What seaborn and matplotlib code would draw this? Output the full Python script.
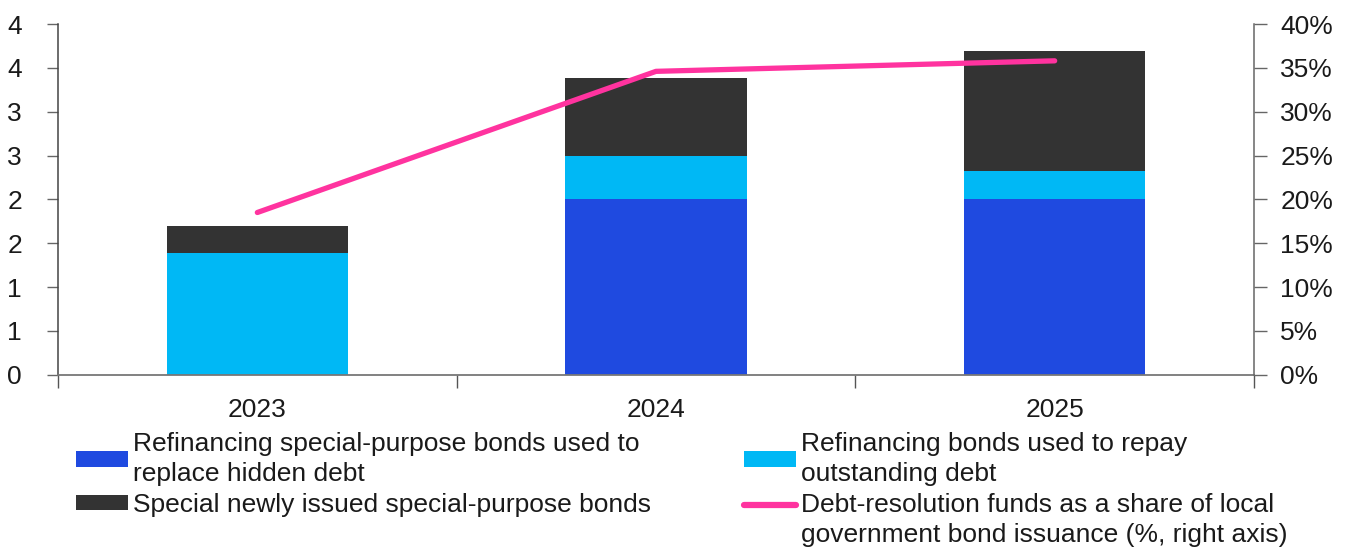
import matplotlib
matplotlib.use("Agg")
import matplotlib.pyplot as plt
import seaborn as sns
import pandas as pd
import numpy as np
from matplotlib.patches import Patch
from matplotlib.lines import Line2D
from matplotlib.ticker import FixedLocator
from matplotlib.legend_handler import HandlerLine2D

# ---------------- data ----------------
years = ["2023", "2024", "2025"]
hidden_debt = [0.0, 2.0, 2.0]          # Refinancing special-purpose bonds used to replace hidden debt
repay_outstanding = [1.39, 0.50, 0.32]  # Refinancing bonds used to repay outstanding debt
special_new = [0.31, 0.88, 1.37]        # Special newly issued special-purpose bonds
share_pct = [18.5, 34.6, 35.8]          # Debt-resolution funds share (%, right axis)

left_ticks = [0, 0.5, 1.0, 1.5, 2.0, 2.5, 3.0, 3.5, 4.0]
left_tick_labels = ["0", "1", "1", "2", "2", "3", "3", "4", "4"]
right_ticks = [0, 5, 10, 15, 20, 25, 30, 35, 40]
right_tick_labels = ["0%", "5%", "10%", "15%", "20%", "25%", "30%", "35%", "40%"]

labels = [
    "Refinancing special-purpose bonds used to\nreplace hidden debt",
    "Refinancing bonds used to repay\noutstanding debt",
    "Special newly issued special-purpose bonds",
    "Debt-resolution funds as a share of local\ngovernment bond issuance (%, right axis)",
]

C_BLUE = "#1F4AE0"
C_CYAN = "#00B8F5"
C_DARK = "#333333"
C_PINK = "#FF339F"

# ---------------- style ----------------
sns.set_theme(style="white")
plt.rcParams["font.family"] = ["Liberation Sans", "DejaVu Sans"]
FS = 19
TXT = "#1a1a1a"

df = pd.DataFrame({
    "year": years,
    "hidden": hidden_debt,
    "repay": repay_outstanding,
    "new": special_new,
    "share": share_pct,
})
df["b2"] = df["hidden"]
df["b3"] = df["hidden"] + df["repay"]
df["pos"] = np.arange(len(years))

fig = plt.figure(figsize=(13.47, 5.5), dpi=100)
ax = fig.add_axes([58 / 1347, 1 - 374.7 / 550, (1254 - 58) / 1347, (374.7 - 24) / 550])

W = 0.455
sns.barplot(data=df, x="year", y="hidden", color=C_BLUE, width=W, ax=ax,
            saturation=1, linewidth=0)
sns.barplot(data=df, x="year", y="repay", bottom=df["b2"], color=C_CYAN, width=W,
            ax=ax, saturation=1, linewidth=0)
sns.barplot(data=df, x="year", y="new", bottom=df["b3"], color=C_DARK, width=W,
            ax=ax, saturation=1, linewidth=0)

ax.set_xlim(-0.5, 2.5)
ax.set_ylim(0, 4.0)
ax.set_xlabel("")
ax.set_ylabel("")
ax.set_yticks(left_ticks)
ax.set_yticklabels(left_tick_labels)
ax.tick_params(axis="y", which="major", direction="out", length=8, width=1,
               color="#666666", pad=18, labelsize=FS, labelcolor=TXT, left=True)
ax.set_xticks(df["pos"])
ax.set_xticklabels(years)
ax.xaxis.set_minor_locator(FixedLocator([-0.5, 0.5, 1.5, 2.5]))
ax.tick_params(axis="x", which="major", length=0, pad=17, labelsize=FS, labelcolor=TXT)
ax.tick_params(axis="x", which="minor", direction="out", length=9, width=1,
               color="#555555", bottom=True)
for s in ["top", "right"]:
    ax.spines[s].set_visible(False)
ax.spines["left"].set_color("#444444")
ax.spines["left"].set_linewidth(1.1)
ax.spines["bottom"].set_color("#777777")
ax.spines["bottom"].set_linewidth(1.3)
ax.grid(False)

ax2 = ax.twinx()
sns.lineplot(data=df, x="pos", y="share", color=C_PINK, linewidth=3.8, ax=ax2,
             solid_capstyle="round", legend=False)
ax2.set_ylim(0, 40)
ax2.set_xlim(-0.5, 2.5)
ax2.set_xlabel("")
ax2.set_ylabel("")
ax2.set_yticks(right_ticks)
ax2.set_yticklabels(right_tick_labels)
ax2.tick_params(axis="y", direction="out", length=9, width=1, color="#666666",
                pad=10, labelsize=FS, labelcolor=TXT, right=True)
for s in ["top", "left", "bottom"]:
    ax2.spines[s].set_visible(False)
ax2.spines["right"].set_color("#666666")
ax2.spines["right"].set_linewidth(1.1)
ax2.grid(False)


class RaisedLineHandler(HandlerLine2D):
    """Line legend handle aligned with the first line of a two-line label."""

    def __init__(self, raise_pts, **kw):
        super().__init__(**kw)
        self.raise_pts = raise_pts

    def create_artists(self, legend, orig_handle, xdescent, ydescent, width,
                       height, fontsize, trans):
        arts = super().create_artists(legend, orig_handle, xdescent, ydescent,
                                      width, height, fontsize, trans)
        for a in arts:
            a.set_ydata(np.asarray(a.get_ydata()) + self.raise_pts)
        return arts


fpx = FS * 100 / 72.0
h_blue = Patch(facecolor=C_BLUE, edgecolor="none")
h_cyan = Patch(facecolor=C_CYAN, edgecolor="none")
h_dark = Patch(facecolor=C_DARK, edgecolor="none")
h_pink = Line2D([], [], color=C_PINK, linewidth=4.5, solid_capstyle="round")

common = dict(loc="upper left", frameon=False, fontsize=FS, borderpad=0,
              borderaxespad=0, handlelength=52 / fpx, handleheight=14 / fpx,
              handletextpad=5 / fpx, labelspacing=0.25)
leg1 = fig.legend([h_blue, h_dark], [labels[0], labels[2]],
                  bbox_to_anchor=(76 / 1347, 1 - 432 / 550), **common)
leg2 = fig.legend([h_cyan, h_pink], [labels[1], labels[3]],
                  bbox_to_anchor=(744 / 1347, 1 - 432 / 550),
                  handler_map={h_pink: RaisedLineHandler(11.5)}, **common)
for lg in (leg1, leg2):
    for t in lg.get_texts():
        t.set_color(TXT)
        t.set_linespacing(1.32)

fig.savefig("out.png", dpi=100)
